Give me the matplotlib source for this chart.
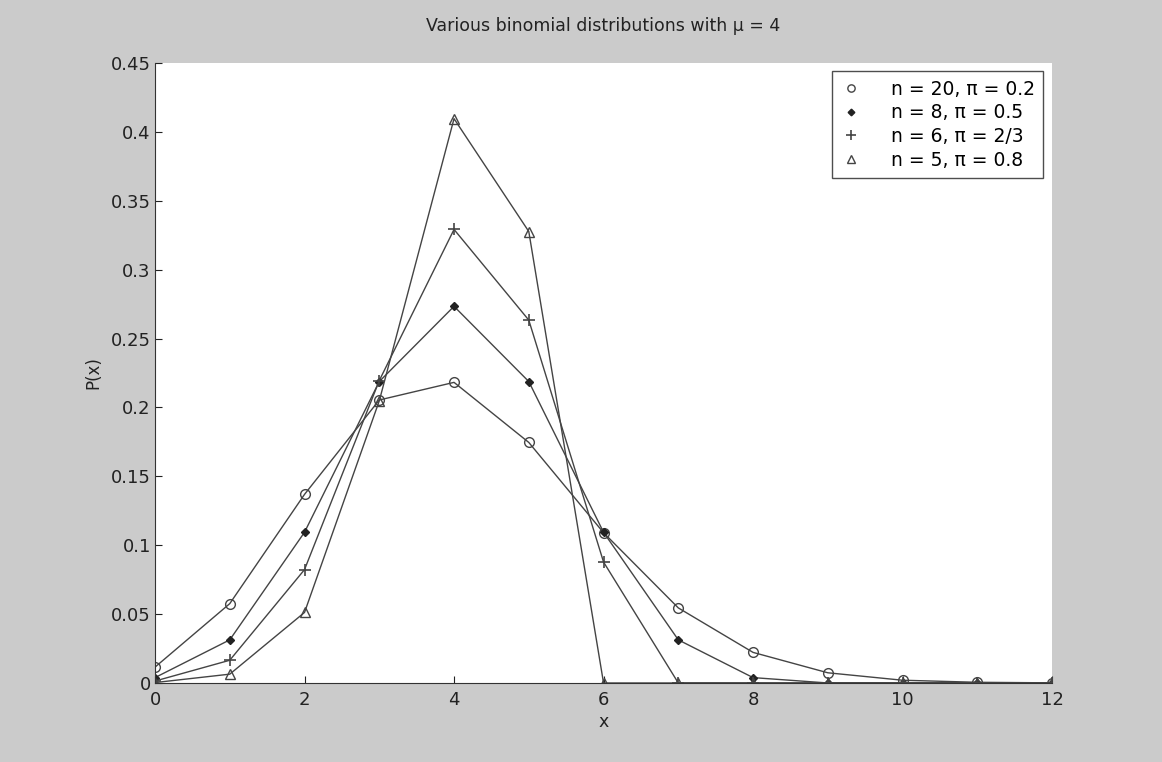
import matplotlib.pyplot as plt

x = list(range(13))
p_n20 = [0.0115, 0.0576, 0.1369, 0.2054, 0.2182, 0.1746, 0.1091, 0.0545,
         0.0222, 0.0074, 0.0020, 0.0005, 0.0001]
p_n8 = [0.0039, 0.0313, 0.1094, 0.2188, 0.2734, 0.2188, 0.1094, 0.0313,
        0.0039, 0.0, 0.0, 0.0, 0.0]
p_n6 = [0.0014, 0.0165, 0.0823, 0.2195, 0.3292, 0.2634, 0.0878, 0.0,
        0.0, 0.0, 0.0, 0.0, 0.0]
p_n5 = [0.0003, 0.0064, 0.0512, 0.2048, 0.4096, 0.3277, 0.0, 0.0,
        0.0, 0.0, 0.0, 0.0, 0.0]
labels = ['n = 20, π = 0.2', 'n = 8, π = 0.5',
          'n = 6, π = 2/3', 'n = 5, π = 0.8']

plt.rcParams['font.family'] = 'DejaVu Sans'

fig = plt.figure(figsize=(11.62, 7.62), dpi=100, facecolor='#cbcbcb')
ax = fig.add_axes([0.1334, 0.1037, 0.772, 0.8136])
ax.set_facecolor('white')

lc = '#444444'
ax.plot(x, p_n20, '-o', color=lc, lw=1.0, ms=7, mfc='none', mec=lc, mew=1.0, label=labels[0])
ax.plot(x, p_n8, '-D', color=lc, lw=1.0, ms=4.5, mfc='#222222', mec='#222222', label=labels[1])
ax.plot(x, p_n6, '-+', color=lc, lw=1.0, ms=9, mew=1.2, label=labels[2])
ax.plot(x, p_n5, '-^', color=lc, lw=1.0, ms=7.5, mfc='none', mec=lc, mew=1.0, label=labels[3])

ax.set_xlim(0, 12)
ax.set_ylim(0, 0.45)
ax.set_xticks(range(0, 13, 2))
ax.set_yticks([0, 0.05, 0.1, 0.15, 0.2, 0.25, 0.3, 0.35, 0.4, 0.45])
ax.set_yticklabels(['0', '0.05', '0.1', '0.15', '0.2', '0.25', '0.3', '0.35', '0.4', '0.45'])
ax.tick_params(direction='in', length=5, labelsize=13, colors='#222222')
ax.tick_params(axis='x', pad=6)
ax.tick_params(axis='y', pad=3)
ax.spines['top'].set_visible(False)
ax.spines['right'].set_visible(False)
ax.spines['left'].set_color('#333333')
ax.spines['bottom'].set_color('#333333')

ax.set_xlabel('x', fontsize=12.5, color='#222222', labelpad=3)
ax.set_ylabel('P(x)', fontsize=12, color='#222222', labelpad=6)
ax.set_title('Various binomial distributions with μ = 4', fontsize=12.5,
             color='#222222', pad=23)

leg = ax.legend(loc='upper right', bbox_to_anchor=(0.99, 0.987), fontsize=13.5,
                frameon=True, fancybox=False, edgecolor='#222222',
                handlelength=1.2, handletextpad=1.5, labelspacing=0.25,
                borderpad=0.45, borderaxespad=0, markerscale=0.75)
for h in leg.get_lines():
    h.set_linestyle('none')
leg.get_frame().set_linewidth(1.0)

fig.savefig('out.png', dpi=100, facecolor=fig.get_facecolor())
